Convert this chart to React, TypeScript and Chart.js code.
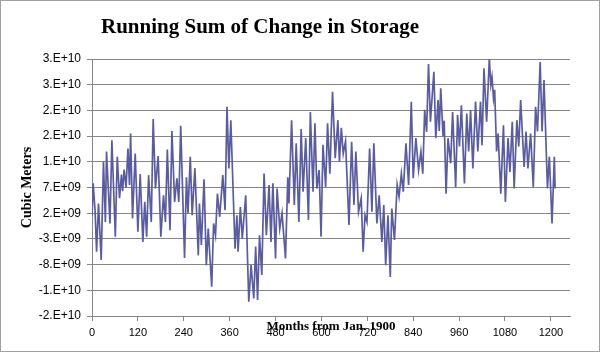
import React, { useEffect, useRef } from "react";
import { Chart, registerables } from "chart.js";

Chart.register(...registerables);

// Months from Jan. 1900 (turning points)
const months = [
  0, 3, 8, 12, 17, 24, 30, 35, 38, 47, 52, 61, 66, 72, 77, 80, 84, 89, 94, 98,
  101, 106, 113, 120, 126, 133, 138, 143, 148, 155, 160, 166, 173, 180, 187, 192, 197, 204, 209, 216,
  222, 227, 232, 242, 247, 251, 257, 262, 269, 278, 281, 286, 293, 299, 304, 313, 318, 323, 328, 334,
  342, 348, 353, 358, 363, 374, 379, 382, 388, 393, 402, 410, 416, 423, 428, 433, 438, 444, 450, 456,
  463, 468, 473, 480, 484, 491, 497, 506, 512, 515, 522, 529, 534, 541, 547, 552, 559, 566, 571, 578,
  583, 588, 594, 599, 604, 611, 616, 622, 629, 636, 643, 647, 652, 657, 663, 672, 679, 685, 690, 697,
  704, 709, 714, 719, 726, 732, 737, 745, 751, 758, 763, 768, 774, 780, 784, 791, 798, 803, 809, 814,
  821, 828, 835, 840, 847, 854, 860, 865, 870, 875, 880, 885, 894, 899, 905, 908, 912, 918, 921, 926,
  931, 938, 943, 951, 956, 961, 966, 974, 980, 985, 990, 996, 1003, 1009, 1016, 1020, 1025, 1032, 1039, 1043,
  1046, 1050, 1053, 1058, 1062, 1069, 1076, 1081, 1088, 1093, 1099, 1104, 1111, 1116, 1121, 1130, 1135, 1140, 1147, 1154,
  1160, 1165, 1172, 1177, 1182, 1191, 1196, 1203, 1209, 1211,
];

// Running sum of change in storage, in units of 1e9 cubic meters
const storage = [
  1.5, 7.8, 2.5, -5.5, 3.9, -7.1, 12, 0.3, 14, 0, 16.2, -2.6, 13, 4.9, 9.5, 6.3, 10.5, 7, 14.6, 7.5,
  17.5, 1, 13.6, -1.6, 9.6, -3.6, 4.2, -2.6, 9.4, 0.3, 20.3, 6.8, 13.1, -2.6, 5.5, 0.3, 14.4, -1.3, 18, 4.2,
  8.8, 4.2, 19, -6.7, 9, 2, 13, 1.6, 10.8, -6.2, 3.9, -4.2, 8.6, -8.1, -1, -12.3, 0, -2.3, 5.8, 1.3,
  9.4, 2.6, 22.7, 10.7, 20.1, -4.9, 1.6, -5.5, 3.2, -2.9, 5.5, -15.2, -8.1, -14.6, -4.5, -14.9, -2.3, -10, 9.7, -2.3,
  7.5, -3.6, 7.8, -6.8, 6.8, -1, 2, -6.8, 9, 3.9, 20.1, 3.6, 15.6, 0.3, 18.4, 6.2, 16.6, 0.7, 21.7, 6.2,
  19.5, 6.8, 10.4, -2.6, 15.3, 7.1, 19.5, 9.7, 25.6, 12.7, 20.1, 12, 18.6, 13.6, 16, -0.3, 15.9, 3.6, 14, 2.3,
  4.9, -5.5, 1.6, 0.3, 14.6, 2.3, 15.6, 0, 5.5, -3.6, 3.6, -8.1, 1.6, -10.4, 2.9, -3.2, 7.5, 5.2, 9.7, 6.2,
  15.6, 7.5, 23.7, 8.8, 16.6, 10.4, 14, 9.7, 22.1, 17.8, 31, 19.8, 29.5, 16.6, 24, 18, 26.3, 17, 20, 5.8,
  16.6, 11.7, 21.7, 7.1, 21.1, 15, 23, 7.8, 21.4, 14, 22, 10.7, 23.7, 14, 23.7, 15.2, 30.2, 19.8, 32.1, 27,
  28.5, 24.3, 26, 14, 17.5, 5.8, 19.1, 4.2, 16.6, 10, 19.8, 6.8, 20.1, 15, 24, 11, 17.9, 10.7, 17.5, 7.1,
  22.7, 17.9, 31.4, 17.9, 27.9, 6.8, 13, 0, 13, 6.8,
];

const xTicks = [0, 120, 240, 360, 480, 600, 720, 840, 960, 1080, 1200];
const yTicks = [-18, -13, -8, -3, 2, 7, 12, 17, 22, 27, 32]; // 1e9 m³

const TITLE = "Running Sum of Change in Storage";
const X_TITLE = "Months from Jan. 1900";
const Y_TITLE = "Cubic Meters";

function excelSci(v: number): string {
  const n = Math.round(v * 1e9);
  if (n === 0) return "0.E+00";
  let e = Math.floor(Math.log10(Math.abs(n)));
  let m = Math.round(n / Math.pow(10, e));
  if (Math.abs(m) >= 10) {
    m = m / 10;
    e += 1;
  }
  const sign = e < 0 ? "-" : "+";
  return `${m}.E${sign}${String(Math.abs(e)).padStart(2, "0")}`;
}

const decorPlugin = {
  id: "decor",
  beforeDraw(chart: any) {
    const { ctx, width, height } = chart;
    ctx.save();
    ctx.fillStyle = "#ffffff";
    ctx.fillRect(0, 0, width, height);
    ctx.restore();
  },
  afterDraw(chart: any) {
    const { ctx, width, height } = chart;
    ctx.save();
    ctx.strokeStyle = "#a0a0a0";
    ctx.lineWidth = 1;
    ctx.strokeRect(0.5, 0.5, width - 1, height - 1);
    ctx.fillStyle = "#000000";
    ctx.font = "bold 21px 'Liberation Serif', serif";
    ctx.textAlign = "center";
    ctx.textBaseline = "alphabetic";
    ctx.fillText(TITLE, 260, 33);
    ctx.restore();
  },
};

export default function App() {
  const ref = useRef<HTMLCanvasElement | null>(null);

  useEffect(() => {
    if (!ref.current) return;
    const points = months.map((m, i) => ({ x: m, y: storage[i] }));
    const chart = new Chart(ref.current, {
      type: "scatter",
      data: {
        datasets: [
          {
            data: points,
            showLine: true,
            borderColor: "#5a5ca2",
            backgroundColor: "#5a5ca2",
            borderWidth: 1.7,
            pointRadius: 0,
            tension: 0,
          },
        ],
      },
      options: {
        animation: false,
        responsive: false,
        layout: { padding: { top: 59, right: 30, left: 0, bottom: 0 } },
        plugins: {
          legend: { display: false },
          tooltip: { enabled: false },
          title: { display: false },
        },
        scales: {
          x: {
            type: "linear",
            min: 0,
            max: 1250,
            afterBuildTicks: (s: any) => {
              s.ticks = xTicks.map((v) => ({ value: v }));
            },
            afterFit: (s: any) => {
              s.height = 36;
            },
            grid: { drawOnChartArea: false, drawTicks: true, tickLength: 5, color: "#868686" },
            border: { color: "#868686" },
            ticks: {
              font: { family: "'Liberation Sans', sans-serif", size: 11 },
              color: "#000",
              padding: 5,
              maxRotation: 0,
              autoSkip: false,
              callback: (v: any) => String(v),
            },
            title: {
              display: true,
              text: X_TITLE,
              color: "#000",
              font: { family: "'Liberation Serif', serif", size: 13, weight: "bold" },
              padding: { top: 0, bottom: 18 },
            },
          },
          y: {
            min: -18,
            max: 32,
            afterBuildTicks: (s: any) => {
              s.ticks = yTicks.map((v) => ({ value: v }));
            },
            afterFit: (s: any) => {
              s.width = 92;
            },
            grid: { drawTicks: true, tickLength: 5, color: "#868686" },
            border: { color: "#868686" },
            ticks: {
              font: { family: "'Liberation Sans', sans-serif", size: 12 },
              color: "#000",
              padding: 6,
              callback: (v: any) => excelSci(Number(v)),
            },
            title: {
              display: true,
              text: Y_TITLE,
              color: "#000",
              font: { family: "'Liberation Serif', serif", size: 14, weight: "bold" },
              padding: { top: 19, bottom: 0 },
            },
          },
        },
      },
      plugins: [decorPlugin],
    } as any);
    return () => chart.destroy();
  }, []);

  return (
    <div style={{ position: "fixed", left: 0, top: 0, width: 600, height: 352 }}>
      <canvas ref={ref} width={600} height={352} style={{ display: "block", width: 600, height: 352 }} />
    </div>
  );
}
